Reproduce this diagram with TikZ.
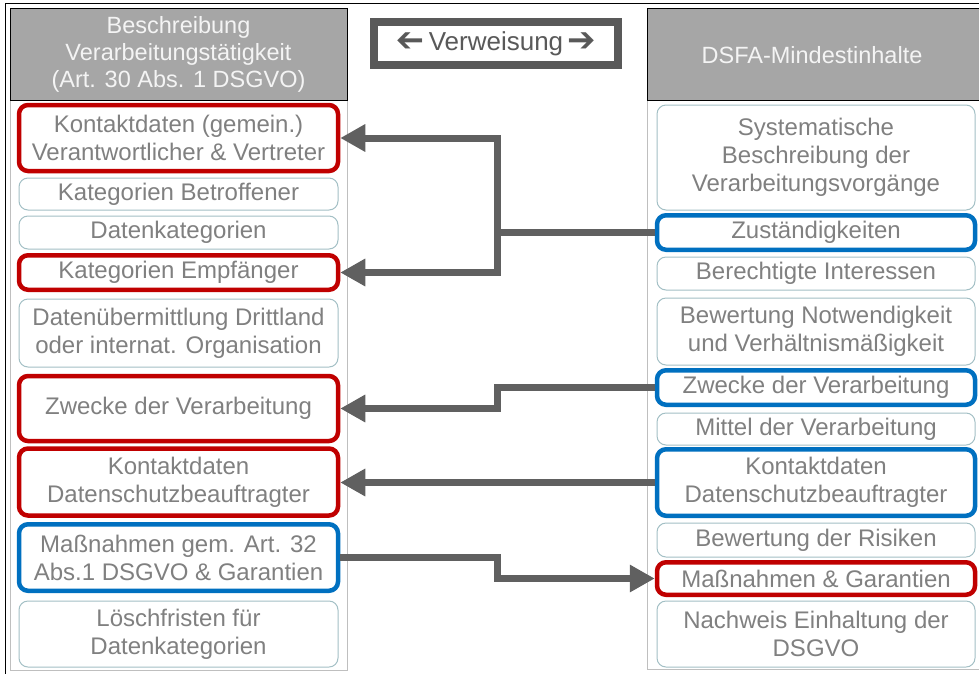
\documentclass[tikz,border=0pt]{standalone}
\usepackage{fontspec}
\usepackage{graphicx}
\setmainfont{Liberation Sans}
\newfontfamily\arrowfont{DejaVu Sans}
\usetikzlibrary{arrows.meta}

\definecolor{headfill}{HTML}{A6A6A6}
\definecolor{headtext}{HTML}{F4F4F4}
\definecolor{boxtext}{HTML}{808080}
\definecolor{thinline}{HTML}{A3C0C5}
\definecolor{panelline}{HTML}{BFBFBF}
\definecolor{dsred}{HTML}{C00000}
\definecolor{dsblue}{HTML}{0070C0}
\definecolor{linkgray}{HTML}{606060}
\definecolor{refgray}{HTML}{595959}

\newcommand{\refarrow}{{\arrowfont\fontsize{34}{34}\selectfont\bfseries\raisebox{-1.5pt}{➔}}}

\tikzset{
  item/.style={draw=thinline, line width=1pt, rounded corners=9pt, fill=white,
    inner sep=0pt, align=center, text=boxtext,
    font=\fontsize{24}{28}\selectfont},
  lbox/.style={item, minimum width=319pt},
  rbox/.style={item, minimum width=318pt},
  redbox/.style={draw=dsred, line width=4.5pt},
  bluebox/.style={draw=dsblue, line width=4.5pt},
  headtxt/.style={inner sep=0pt, align=center, text=headtext,
    font=\fontsize{23.5}{27}\selectfont},
  link/.style={draw=linkgray, line width=7pt},
  tip/.style={-{Triangle[length=25pt,width=26pt]}},
}

\begin{document}
\begin{tikzpicture}[x=1pt, y=-1pt]
  \clip (0,0) rectangle (979,673);
  \fill[white] (0,0) rectangle (979,673);

  % outer frame
  \draw[black, line width=1pt] (5,3) rectangle (1000,700);

  % column panels and header bars
  \draw[panelline, line width=1pt] (10,100) rectangle (347,670);
  \draw[panelline, line width=1pt] (647,100) rectangle (1000,669);
  \filldraw[fill=headfill, draw=black, line width=0.9pt] (10,8) rectangle (347,100);
  \filldraw[fill=headfill, draw=black, line width=0.9pt] (647,8) rectangle (1000,100);

  \node[headtxt] (hl) at (178.5,54)
    {Beschreibung\\Verarbeitungstätigkeit\\(Art. 30 Abs. 1 DSGVO)};
  \node[headtxt] (hr) at (812,55) {DSFA-Mindestinhalte};

  % legend box
  \node[draw=refgray, line width=8pt, fill=white, minimum width=244pt,
        minimum height=43pt, inner sep=0pt, text=refgray,
        font=\fontsize{26}{30}\selectfont] (ref) at (496,43.5)
    {\reflectbox{\refarrow}\,Verweisung\,\refarrow};

  % left column: processing record
  \node[lbox, redbox, minimum height=66pt] (l1) at (178.5,138)
    {Kontaktdaten (gemein.)\\Verantwortlicher \& Vertreter};
  \node[lbox, minimum height=32pt] (l2) at (178.5,194) {Kategorien Betroffener};
  \node[lbox, minimum height=33pt] (l3) at (178.5,232.5) {Datenkategorien};
  \node[lbox, redbox, minimum height=34.5pt] (l4) at (178.5,272.5) {Kategorien Empfänger};
  \node[lbox, minimum height=68pt] (l5) at (178.5,333)
    {Datenübermittlung Drittland\\oder internat. Organisation};
  \node[lbox, redbox, minimum height=65pt] (l6) at (178.5,408.5) {Zwecke der Verarbeitung};
  \node[lbox, redbox, minimum height=67pt] (l7) at (178.5,482)
    {Kontaktdaten\\Datenschutzbeauftragter};
  \node[lbox, bluebox, minimum height=66.5pt] (l8) at (178.5,557.5)
    {Maßnahmen gem. Art. 32\\Abs.1 DSGVO \& Garantien};
  \node[lbox, minimum height=66pt] (l9) at (178.5,634)
    {Löschfristen für\\Datenkategorien};

  % right column: DPIA minimum contents
  \node[rbox, minimum height=105pt] (r1) at (816,157.5)
    {Systematische\\Beschreibung der\\Verarbeitungsvorgänge};
  \node[rbox, bluebox, minimum height=34.5pt] (r2) at (816,232.5) {Zuständigkeiten};
  \node[rbox, minimum height=33pt] (r3) at (816,273.5) {Berechtigte Interessen};
  \node[rbox, minimum height=67pt] (r4) at (816,331.5)
    {Bewertung Notwendigkeit\\und Verhältnismäßigkeit};
  \node[rbox, bluebox, minimum height=34.5pt] (r5) at (816,387.5) {Zwecke der Verarbeitung};
  \node[rbox, minimum height=32pt] (r6) at (816,429) {Mittel der Verarbeitung};
  \node[rbox, bluebox, minimum height=66.5pt] (r7) at (816,482.5)
    {Kontaktdaten\\Datenschutzbeauftragter};
  \node[rbox, minimum height=34pt] (r8) at (816,540) {Bewertung der Risiken};
  \node[rbox, redbox, minimum height=32.5pt] (r9) at (816,578.5) {Maßnahmen \& Garantien};
  \node[rbox, minimum height=66pt] (r10) at (816,634)
    {Nachweis Einhaltung der\\DSGVO};

  % cross references
  \coordinate (jx) at (497,0);
  \draw[link, {Triangle[length=25pt,width=26pt]}-{Triangle[length=25pt,width=26pt]}]
    (l1.east) -- (jx |- l1.east) -- (jx |- l4.east) -- (l4.east);
  \draw[link] (r2.west) -- (jx |- r2.west);
  \draw[link, tip] (r5.west) -- (jx |- r5.west) -- (jx |- l6.east) -- (l6.east);
  \draw[link, tip] (r7.west) -- (r7.west -| l7.east);
  \draw[link, tip] (l8.east) -- (jx |- l8.east) -- (jx |- r9.west) -- (r9.west);
\end{tikzpicture}
\end{document}
